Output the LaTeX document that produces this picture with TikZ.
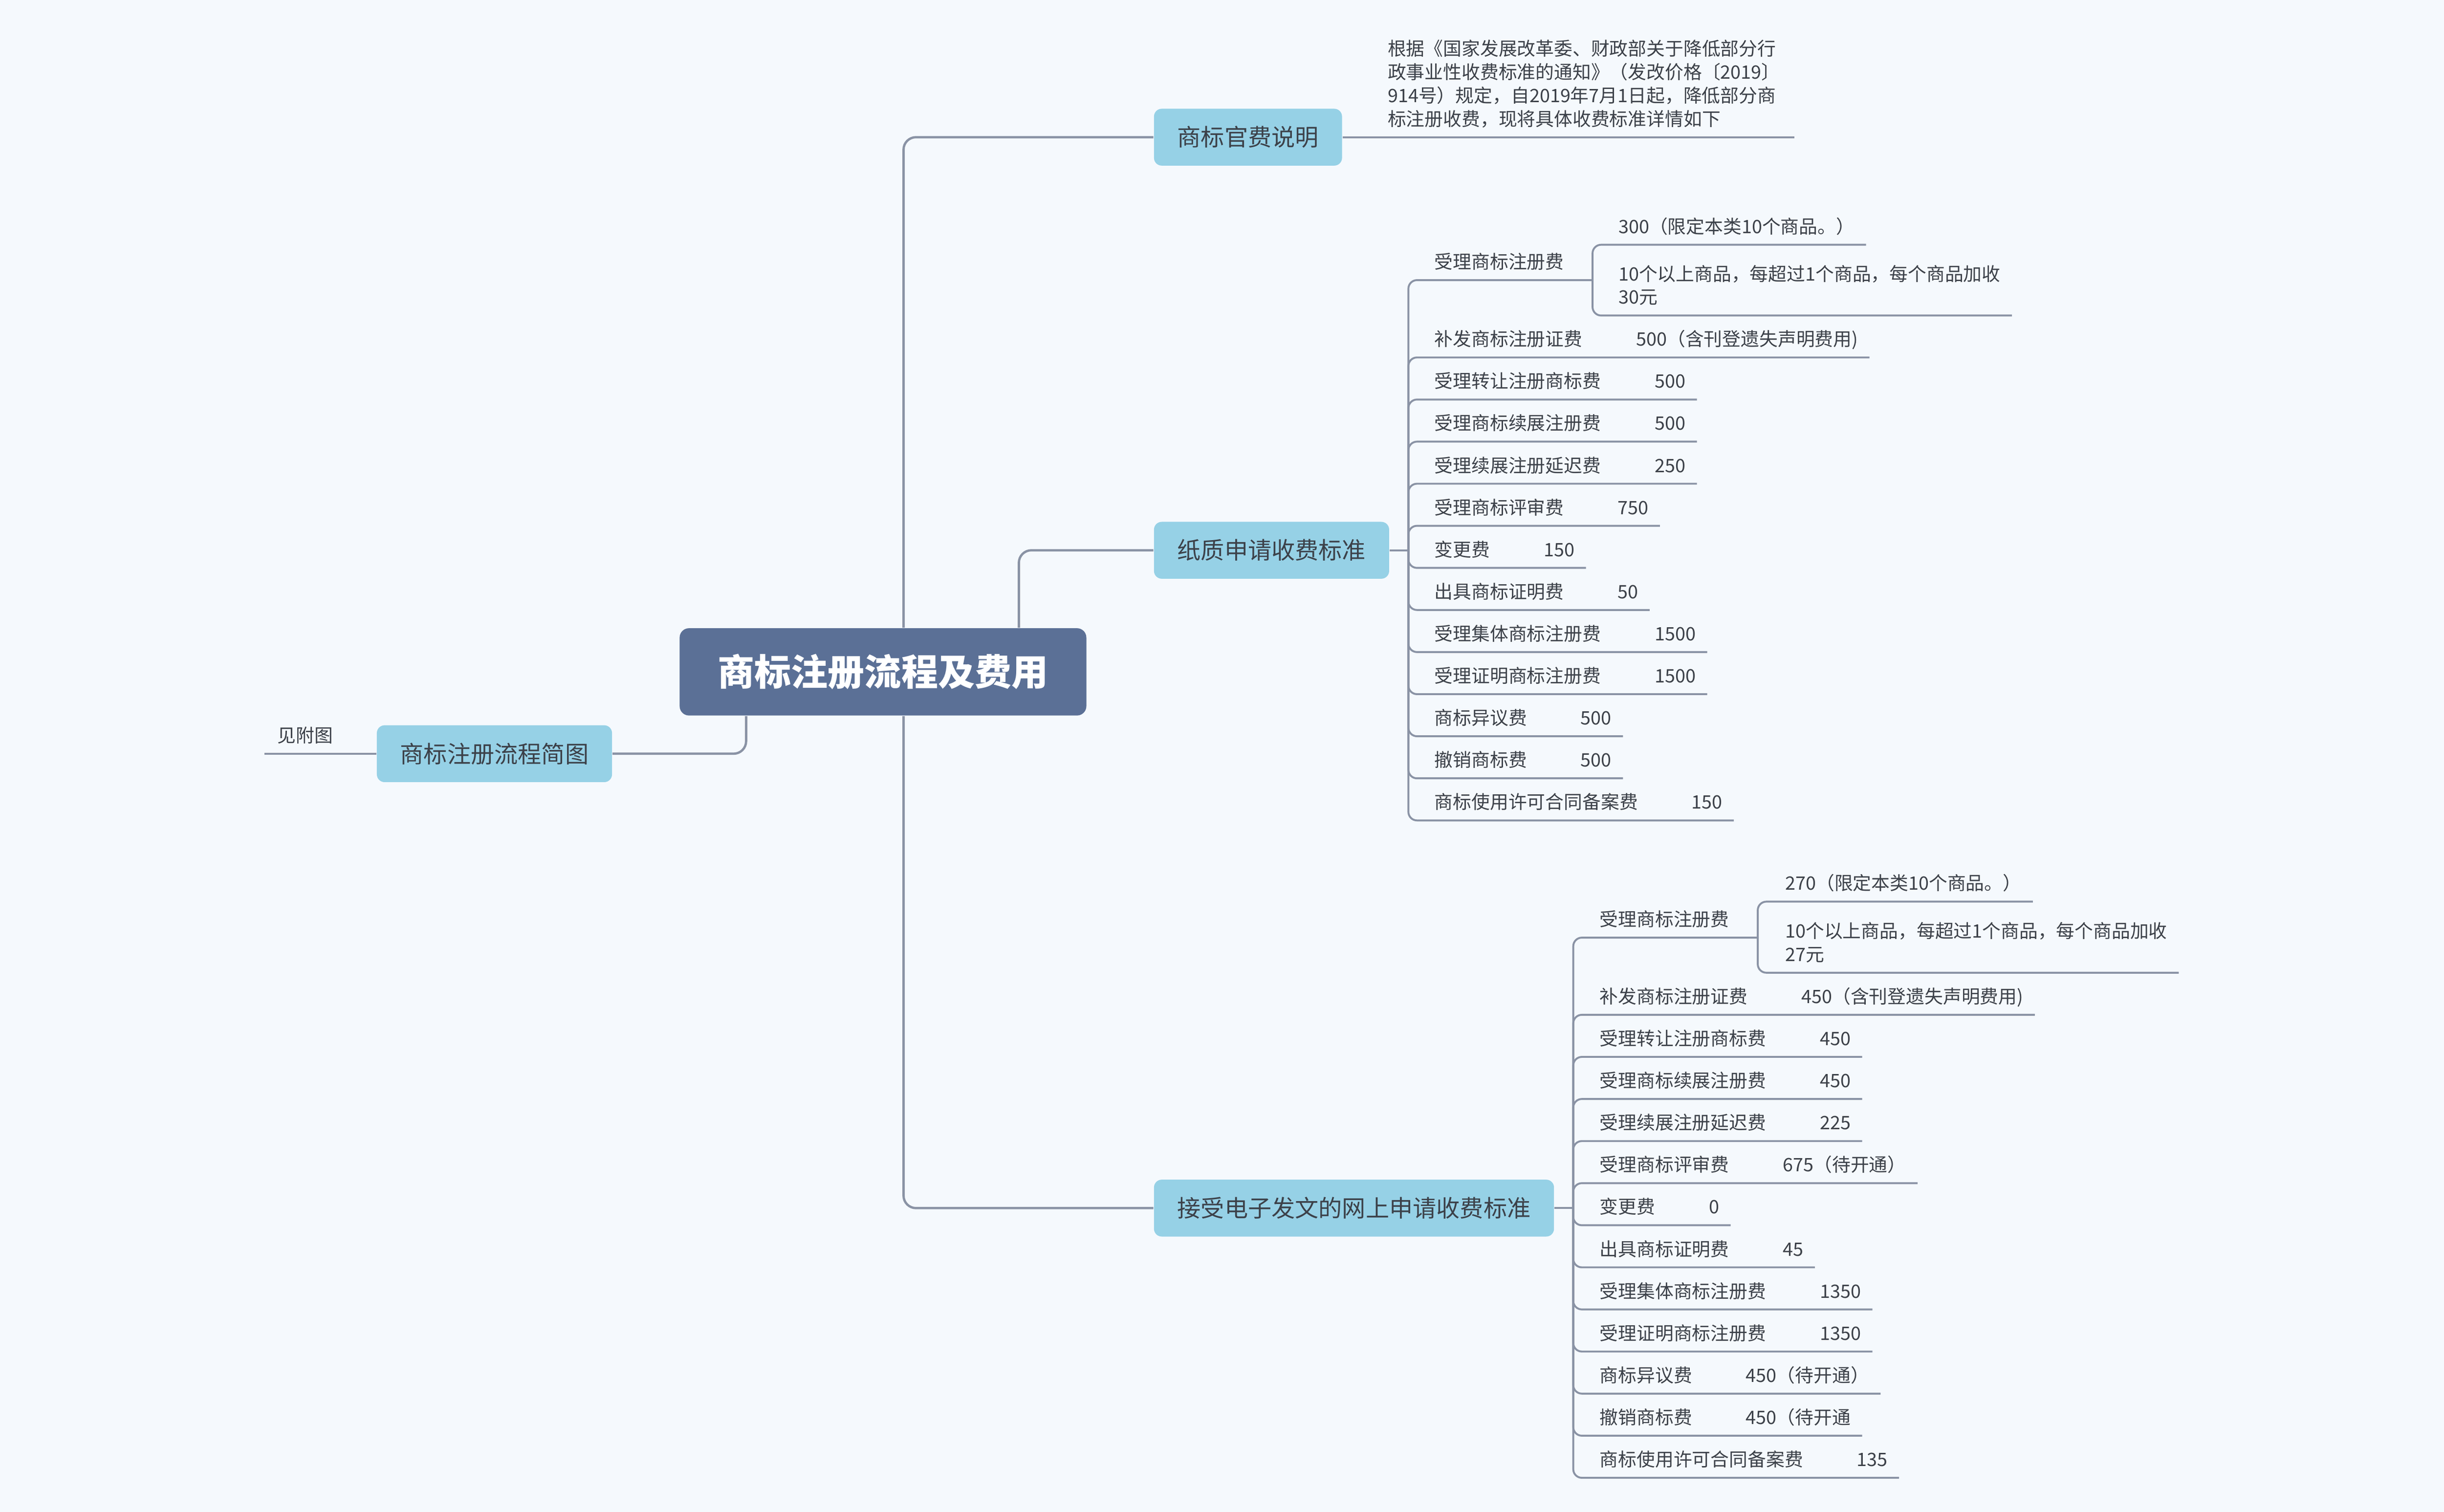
\documentclass[tikz,border=0pt]{standalone}
\usepackage{fontspec}
\setmainfont{Noto Sans CJK SC}
\usetikzlibrary{positioning,calc}
\definecolor{bgblue}{HTML}{F5F9FD}
\definecolor{rootfill}{HTML}{5B7096}
\definecolor{topicfill}{HTML}{96D1E6}
\definecolor{ink}{HTML}{3C4149}
\definecolor{wire}{HTML}{8A93A5}

\begin{document}
\begin{tikzpicture}[x=0.02cm,y=-0.02cm,
	root/.style={fill=rootfill,rounded corners=0.12cm,text=white,inner sep=0pt,minimum width=5.22cm,minimum height=1.12cm,font=\fontsize{13.4pt}{16pt}\selectfont\bfseries},
	topic/.style={fill=topicfill,rounded corners=0.1cm,text=ink,inner xsep=0.3cm,inner ysep=0pt,minimum height=0.73cm,font=\fontsize{8.6pt}{10pt}\selectfont},
	leaf/.style={anchor=south west,inner sep=0pt,text depth=0.14cm,text=ink,align=left,font=\fontsize{6.75pt}{8.54pt}\selectfont},
	trunk/.style={draw=wire,line width=0.85pt,rounded corners=0.16cm},
	twig/.style={draw=wire,line width=0.7pt,rounded corners=0.11cm}]
			\fill[bgblue] (0,0) rectangle (1568,969.8);
			\node[root] (root) at (566.5,431) {商标注册流程及费用};
			\node[topic,anchor=west] (b1) at (740,88) {商标官费说明};
			\node[topic,anchor=west] (b2) at (740,353) {纸质申请收费标准};
			\node[topic,anchor=west] (b3) at (740,775) {接受电子发文的网上申请收费标准};
			\node[topic,anchor=east] (b0) at (393,483.5) {商标注册流程简图};
			\coordinate (rtA) at ($(root.north west)+(144,0)$);
			\coordinate (rtB) at ($(root.north west)+(218,0)$);
			\coordinate (rtC) at ($(root.south west)+(144,0)$);
			\coordinate (rtD) at ($(root.south west)+(43,0)$);
			\draw[trunk] (rtA) |- (b1.west);
			\draw[trunk] (rtB) |- (b2.west);
			\draw[trunk] (rtC) |- (b3.west);
			\draw[trunk] (rtD) |- (b0.east);
			\node[leaf,anchor=south east] (s) at (214,483.5) {见附图};
			\draw[twig] (b0.west) -- ($(s.south west)+(-8,0)$);
			\node[leaf] (t) at (890,88) {根据《国家发展改革委、财政部关于降低部分行\\政事业性收费标准的通知》（发改价格〔2019〕\\914号）规定，自2019年7月1日起，降低部分商\\标注册收费，现将具体收费标准详情如下};
			\draw[twig] (b1.east) -- ($(t.south east)+(9,0)$);
			\coordinate (b2bus) at ($(b2.east)+(12,0)$);
			\draw[twig] (b2.east) -- (b2bus);
			\node[leaf] (pa) at (920,179.7) {受理商标注册费};
			\coordinate (pabus) at ($(pa.south east)+(18,0)$);
			\draw[twig] (b2bus) |- (pabus);
			\node[leaf] (pa1) at (1038,157) {300（限定本类10个商品。）};
			\node[leaf] (pa2) at (1038,202.4) {10个以上商品，每超过1个商品，每个商品加收\\30元};
			\draw[twig] (pabus) |- ($(pa1.south east)+(7,0)$);
			\draw[twig] (pabus) |- ($(pa2.south east)+(7,0)$);
			\foreach \lab/\val [count=\i] in {补发商标注册证费/500（含刊登遗失声明费用),
				受理转让注册商标费/500, 受理商标续展注册费/500, 受理续展注册延迟费/250,
				受理商标评审费/750, 变更费/150, 出具商标证明费/50, 受理集体商标注册费/1500,
				受理证明商标注册费/1500, 商标异议费/500, 撤销商标费/500, 商标使用许可合同备案费/150}{
				\node[leaf] (p\i) at (920,{229.3+27*(\i-1)}) {\lab\hspace{0.69cm}\val};
				\draw[twig] (b2bus) |- ($(p\i.south east)+(7,0)$);
			}
			\coordinate (b3bus) at ($(b3.east)+(12,0)$);
			\draw[twig] (b3.east) -- (b3bus);
			\node[leaf] (qa) at (1026,601.5) {受理商标注册费};
			\coordinate (qabus) at ($(qa.south east)+(18,0)$);
			\draw[twig] (b3bus) |- (qabus);
			\node[leaf] (qa1) at (1145,578.4) {270（限定本类10个商品。）};
			\node[leaf] (qa2) at (1145,624) {10个以上商品，每超过1个商品，每个商品加收\\27元};
			\draw[twig] (qabus) |- ($(qa1.south east)+(7,0)$);
			\draw[twig] (qabus) |- ($(qa2.south east)+(7,0)$);
			\foreach \lab/\val [count=\i] in {补发商标注册证费/450（含刊登遗失声明费用),
				受理转让注册商标费/450, 受理商标续展注册费/450, 受理续展注册延迟费/225,
				受理商标评审费/675（待开通）, 变更费/0, 出具商标证明费/45, 受理集体商标注册费/1350,
				受理证明商标注册费/1350, 商标异议费/450（待开通）, 撤销商标费/450（待开通, 商标使用许可合同备案费/135}{
				\node[leaf] (q\i) at (1026,{651+27*(\i-1)}) {\lab\hspace{0.69cm}\val};
				\draw[twig] (b3bus) |- ($(q\i.south east)+(7,0)$);
			}
\end{tikzpicture}
\end{document}
